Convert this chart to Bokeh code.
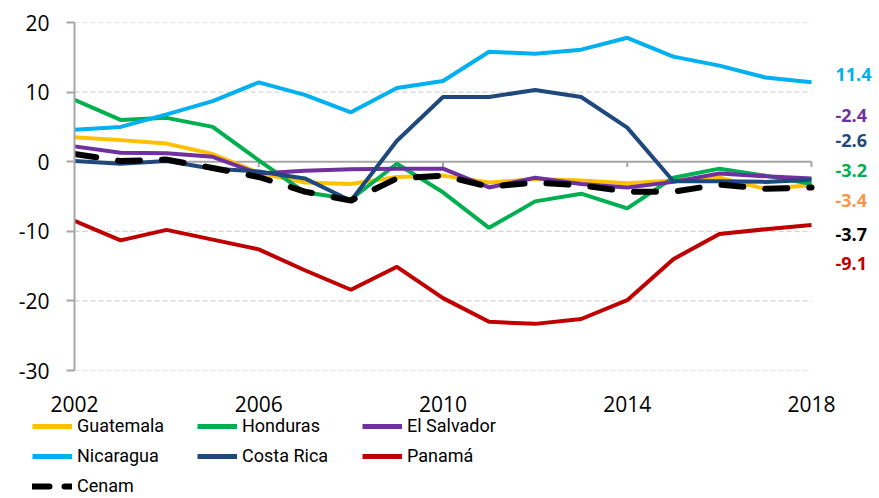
from bokeh.plotting import figure
from bokeh.models import (Range1d, FixedTicker, Legend, LegendItem, ColumnDataSource)
from bokeh.core.properties import value
from bokeh.embed import file_html
from bokeh.resources import INLINE

# ---------------- data ----------------
years = list(range(2002, 2019))
guatemala = [3.5, 3.1, 2.6, 1.1, -1.6, -3.0, -3.2, -2.2, -2.0, -3.0, -2.5, -2.7, -3.1, -2.7, -2.3, -3.9, -3.4]
honduras = [8.9, 6.0, 6.3, 5.0, 0.2, -4.4, -5.4, -0.3, -4.4, -9.5, -5.7, -4.6, -6.7, -2.3, -1.0, -2.0, -3.2]
el_salvador = [2.2, 1.3, 1.2, 0.7, -1.7, -1.3, -1.1, -1.0, -1.0, -3.7, -2.3, -3.2, -3.7, -2.9, -1.7, -2.1, -2.4]
nicaragua = [4.6, 5.0, 6.8, 8.7, 11.4, 9.6, 7.1, 10.6, 11.6, 15.8, 15.5, 16.1, 17.8, 15.1, 13.8, 12.1, 11.4]
costa_rica = [0.1, -0.3, 0.1, -1.0, -1.4, -2.4, -5.6, 3.0, 9.3, 9.3, 10.3, 9.3, 4.9, -2.8, -2.8, -2.9, -2.6]
panama = [-8.5, -11.3, -9.8, -11.2, -12.6, -15.6, -18.4, -15.1, -19.6, -23.0, -23.3, -22.6, -19.9, -14.0, -10.4, -9.7, -9.1]
cenam = [1.1, 0.1, 0.3, -0.9, -2.2, -4.3, -5.6, -2.4, -2.0, -3.6, -3.0, -3.4, -4.3, -4.3, -3.3, -3.9, -3.7]

x_ticks = [2002, 2006, 2010, 2014, 2018]
y_ticks = [-30, -20, -10, 0, 10, 20]

series = [
    ("Guatemala", guatemala, "#FFC000"),
    ("Honduras", honduras, "#00B050"),
    ("El Salvador", el_salvador, "#7030A0"),
    ("Nicaragua", nicaragua, "#00B0F0"),
    ("Costa Rica", costa_rica, "#1F497D"),
    ("Panamá", panama, "#C00000"),
]

# end labels (layout: vertical label positions in data units)
end_label_series = [nicaragua, el_salvador, costa_rica, honduras, guatemala, cenam, panama]
end_label_colors = ["#00B0F0", "#7030A0", "#1F497D", "#00B050", "#F79646", "#000000", "#C00000"]
end_label_pos = [12.5, 6.6, 3.0, -1.3, -5.6, -10.4, -14.6]

NUM_FONT = "Open Sans"
TXT_FONT = "Roboto"

W = 877
H_MAIN, H_LEG = 416, 80
FRAME_L, FRAME_R, FRAME_T, FRAME_B = 74, 877, 22, 370
px_per_year = (811 - 74) / (x_ticks[-1] - x_ticks[0])
x_end = x_ticks[0] + (FRAME_R - FRAME_L) / px_per_year

p = figure(width=W, height=H_MAIN, output_backend="svg", toolbar_location=None,
           x_range=Range1d(x_ticks[0], x_end), y_range=Range1d(-30, 20),
           min_border_left=FRAME_L, min_border_right=W - FRAME_R,
           min_border_top=FRAME_T, min_border_bottom=H_MAIN - FRAME_B)
p.outline_line_color = None
p.background_fill_color = "white"
p.border_fill_color = "white"
p.xgrid.grid_line_color = None
p.ygrid.grid_line_color = None

# dashed gridlines only across the data span
grid_vals = [t for t in y_ticks if t != 0]
p.segment(x0=[x_ticks[0]] * len(grid_vals), x1=[x_ticks[-1]] * len(grid_vals),
          y0=grid_vals, y1=grid_vals, line_color="#C8C8C8", line_width=1,
          line_dash="5 3")

# y axis
p.yaxis.ticker = FixedTicker(ticks=y_ticks)
p.yaxis.major_label_overrides = {t: str(t) for t in y_ticks}
p.yaxis.axis_line_color = "#A6A6A6"
p.yaxis.axis_line_width = 2
p.yaxis.major_tick_line_color = "#A6A6A6"
p.yaxis.major_tick_line_width = 2
p.yaxis.major_tick_out = 8
p.yaxis.major_tick_in = 0
p.yaxis.minor_tick_line_color = None
p.yaxis.major_label_text_font = NUM_FONT
p.yaxis.major_label_text_font_size = "21px"
p.yaxis.major_label_text_color = "#000000"
p.yaxis.major_label_standoff = 17

# x axis (labels only, at bottom)
p.xaxis.ticker = FixedTicker(ticks=x_ticks)
p.xaxis.major_label_overrides = {t: str(t) for t in x_ticks}
p.xaxis.axis_line_color = None
p.xaxis.major_tick_line_color = None
p.xaxis.minor_tick_line_color = None
p.xaxis.major_label_text_font = NUM_FONT
p.xaxis.major_label_text_font_size = "21px"
p.xaxis.major_label_text_color = "#000000"
p.xaxis.major_label_standoff = 19

# zero line with ticks
p.segment(x0=[x_ticks[0]], x1=[x_ticks[-1]], y0=[0], y1=[0],
          line_color="#A6A6A6", line_width=2)
p.segment(x0=x_ticks[1:], y0=[0] * 4, x1=x_ticks[1:], y1=[-0.75] * 4,
          line_color="#A6A6A6", line_width=2)

for name, vals, col in series:
    p.line(years, vals, line_color=col, line_width=4)
p.line(years, cenam, line_color="black", line_width=6, line_dash="22 22",
       line_cap="round")

src = ColumnDataSource(dict(
    x=[years[-1]] * len(end_label_series),
    y=end_label_pos,
    text=[f"{s[-1]:.1f}" for s in end_label_series],
    color=end_label_colors,
))
p.text(x="x", y="y", text="text", source=src, x_offset=24,
       text_color="color", text_font=value(NUM_FONT),
       text_font_style="bold", text_font_size="18px",
       text_baseline="middle", text_align="left")

# ---------------- legend figure (separate root, not frame-aligned) ----------------
lg = figure(width=W, height=H_LEG, output_backend="svg", toolbar_location=None,
            x_range=Range1d(0, 1), y_range=Range1d(0, 1), min_border=0,
            x_axis_location=None, y_axis_location=None)
lg.grid.visible = False
lg.outline_line_color = None
lg.background_fill_color = "white"
lg.border_fill_color = "white"

items = []
for name, vals, col in series:
    r = lg.line(years, vals, line_color=col, line_width=5)
    items.append(LegendItem(label=name, renderers=[r]))
rc = lg.line(years, cenam, line_color="black", line_width=6, line_dash="17 15",
             line_cap="round")
items.append(LegendItem(label="Cenam", renderers=[rc]))

legend = Legend(items=items, orientation="horizontal", ncols=3,
                location=(32, 0), padding=0, margin=0, spacing=9,
                glyph_width=40, glyph_height=20, label_height=20,
                label_width=111, label_standoff=5,
                label_text_font=TXT_FONT, label_text_font_size="18px",
                label_text_color="#000000",
                border_line_color=None, background_fill_alpha=0)
lg.add_layout(legend)

open("out.html", "w").write(file_html([p, lg], INLINE))
